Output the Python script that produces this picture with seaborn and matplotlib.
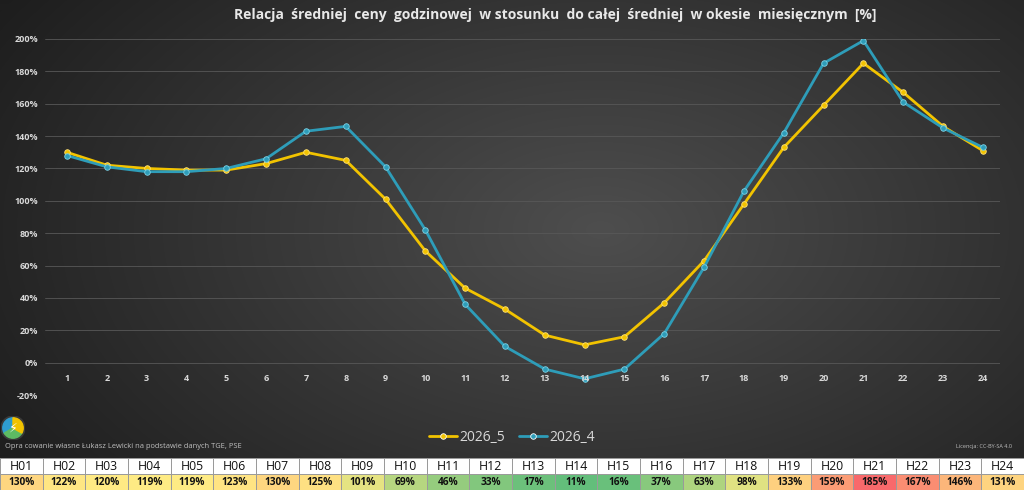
import numpy as np
import pandas as pd
import matplotlib
matplotlib.use("Agg")
import matplotlib.pyplot as plt
import seaborn as sns
from matplotlib.colors import LinearSegmentedColormap, TwoSlopeNorm, ListedColormap
from matplotlib.patches import Circle, Wedge

# ---------------- data ----------------
hours = list(range(1, 25))
series_names = ["2026_5", "2026_4"]
vals_2026_5 = [130, 122, 120, 119, 119, 123, 130, 125, 101, 69, 46, 33,
               17, 11, 16, 37, 63, 98, 133, 159, 185, 167, 146, 131]
vals_2026_4 = [128, 121, 118, 118, 120, 126, 143, 146, 121, 82, 36, 10,
               -4, -10, -4, 18, 59, 106, 142, 185, 199, 161, 145, 133]
table_labels = ["H%02d" % h for h in hours]
y_ticks = [-20, 0, 20, 40, 60, 80, 100, 120, 140, 160, 180, 200]
title = "Relacja  średniej  ceny  godzinowej  w stosunku  do całej  średniej  w okesie  miesięcznym  [%]"
source_note = "Opra cowanie własne Łukasz Lewicki na podstawie danych TGE, PSE"
license_note = "Licencja: CC-BY-SA 4.0"

sns.set_theme(style="dark")
plt.rcParams['font.family'] = ['Open Sans', 'DejaVu Sans']

W, H = 1024, 490
fig = plt.figure(figsize=(W / 100, H / 100), dpi=100)

# background gradient
bg = fig.add_axes([0, 0, 1, 1])
yy, xx = np.mgrid[0:H, 0:W]
d = np.sqrt(((xx - 600) / 700.0) ** 2 + ((yy - 230) / 420.0) ** 2)
d = np.clip(d, 0, 1)
c_in = np.array([0x4e, 0x4e, 0x4e]) / 255
c_out = np.array([0x1e, 0x1e, 0x1e]) / 255
img = c_in[None, None, :] * (1 - d[..., None]) + c_out[None, None, :] * d[..., None]
bg.imshow(img, extent=[0, 1, 0, 1], aspect="auto", origin="upper")
bg.set_axis_off()

# main axes
ax = fig.add_axes([45 / W, 1 - 395 / H, 955 / W, 356 / H])
ax.patch.set_alpha(0)
df = pd.DataFrame({
    "hour": hours * 2,
    "val": vals_2026_5 + vals_2026_4,
    "series": [series_names[0]] * 24 + [series_names[1]] * 24,
})
palette = {"2026_5": "#F2C300", "2026_4": "#2E9DB9"}
sns.lineplot(data=df, x="hour", y="val", hue="series", hue_order=series_names,
             palette=palette, marker="o", markersize=4.0, linewidth=2.0,
             markeredgewidth=0.6, ax=ax, legend=True)
for ln, mec in zip(ax.lines, ["#FFE27A", "#7FD3E6"]):
    ln.set_markeredgecolor(mec)

ax.set_xlim(0.448, 24.43)
ax.set_ylim(-20, 200)
ax.set_yticks(y_ticks)
ax.set_yticklabels([f"{v}%" for v in y_ticks], fontsize=6.5, fontweight="bold", color="#d9d9d9")
ax.tick_params(axis="y", length=0, pad=5)
ax.set_xticks([])
ax.set_xlabel("")
ax.set_ylabel("")
for yv in y_ticks:
    ax.axhline(yv, color="#585858", lw=0.6, zorder=0)
for s in ax.spines.values():
    s.set_visible(False)
ax.grid(False)
for h in hours:
    ax.text(h, -9.5, str(h), ha="center", va="center", fontsize=6.5,
            fontweight="bold", color="#d9d9d9")

# legend
handles, labels = ax.get_legend_handles_labels()
ax.legend(handles, labels, loc="center", bbox_to_anchor=(0.5, 1 - 437 / H),
          bbox_transform=fig.transFigure, ncol=2, frameon=False, fontsize=10,
          labelcolor="#d9d9d9", handlelength=2.0, handletextpad=0.2,
          columnspacing=1.0)

# title
fig.text(555 / W, 1 - 15 / H, title, ha="center", va="center", fontsize=10,
         fontweight="bold", color="#e8e8e8")

# notes
fig.text(5 / W, 1 - 447 / H, source_note, ha="left", va="center", fontsize=5.4,
         color="#bfbfbf")
fig.text(1012 / W, 1 - 446 / H, license_note, ha="right", va="center", fontsize=4.0,
         color="#bfbfbf")

# logo
lg = fig.add_axes([1 / W, 1 - 440 / H, 24 / W, 24 / H])
lg.set_xlim(-1, 1); lg.set_ylim(-1, 1); lg.set_aspect("equal"); lg.set_axis_off()
lg.add_patch(Circle((0, 0), 1.0, color="#3a3a3a"))
lg.add_patch(Wedge((0, 0), 0.85, 90, 210, color="#2E9DD0"))
lg.add_patch(Wedge((0, 0), 0.85, 210, 330, color="#5DBB63"))
lg.add_patch(Wedge((0, 0), 0.85, 330, 450, color="#F2C300"))
lg.text(0, 0, "⚡", ha="center", va="center", fontsize=9, color="white",
        family=["DejaVu Sans"])

# table: header row
th = fig.add_axes([0, 1 - 474 / H, 1, 16 / H])
sns.heatmap(np.zeros((1, 24)), ax=th, cmap=ListedColormap(["#ffffff"]), cbar=False,
            annot=np.array([table_labels]), fmt="", linewidths=0.6, linecolor="#9a9a9a",
            annot_kws={"fontsize": 8.8, "color": "#111111"}, xticklabels=False,
            yticklabels=False)

# table: value row
tv = fig.add_axes([0, 0, 1, 16 / H])
cmap = LinearSegmentedColormap.from_list("xl", ["#63BE7B", "#FFEB84", "#F8696B"])
norm = TwoSlopeNorm(vmin=min(vals_2026_5), vcenter=float(np.median(vals_2026_5)),
                    vmax=max(vals_2026_5))
sns.heatmap(np.array([vals_2026_5]), ax=tv, cmap=cmap, norm=norm, cbar=False,
            annot=np.array([[f"{v}%" for v in vals_2026_5]]), fmt="",
            linewidths=0.6, linecolor="#9a9a9a",
            annot_kws={"fontsize": 7.3, "fontweight": "bold", "color": "#111111"},
            xticklabels=False, yticklabels=False)

fig.savefig("out.png", dpi=100)
